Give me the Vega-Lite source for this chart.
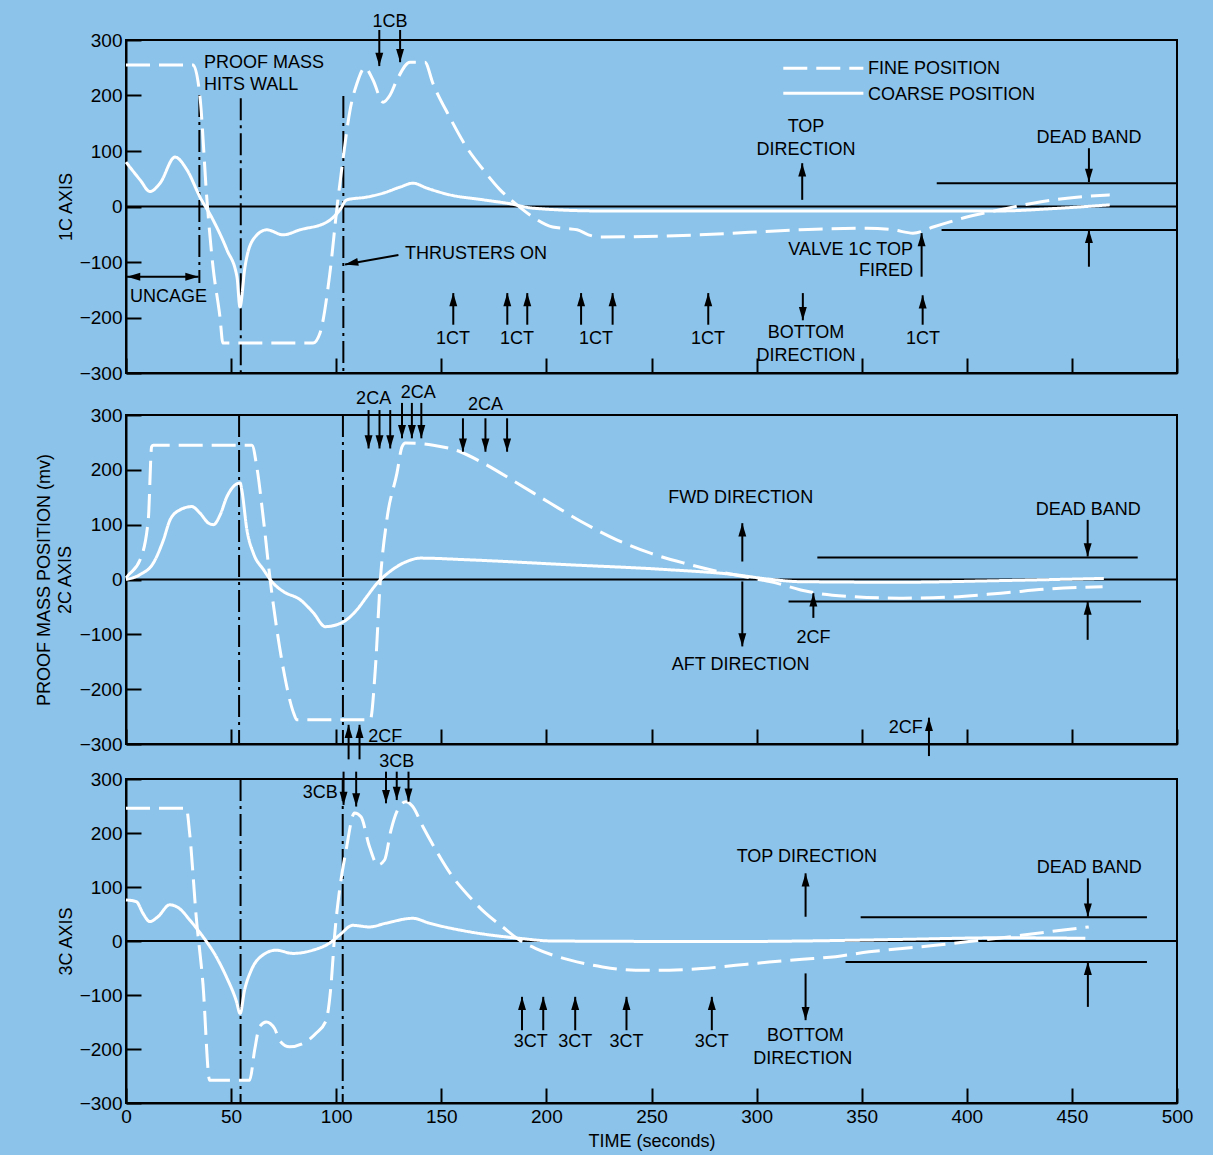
{
"$schema": "https://vega.github.io/schema/vega-lite/v6.json",
"background": "#8cc3ea",
"padding": {"left": 34, "top": 12, "right": 40, "bottom": 20},
"bounds": "flush",
"spacing": 42,
"config": {
 "view": {"stroke": "black", "strokeWidth": 2},
 "font": "Liberation Sans",
 "axis": {"domainColor": "black", "domainWidth": 2, "tickColor": "black", "tickWidth": 2, "tickSize": -15, "labelPadding": 19, "labelColor": "black", "labelFontSize": 19, "labelFont": "Liberation Sans", "titleColor": "black", "titleFont": "Liberation Sans", "titleFontSize": 18, "titleFontWeight": "normal", "grid": false, "labelFlush": false, "labelOverlap": false},
 "text": {"font": "Liberation Sans", "fontSize": 18, "color": "black"}
},
"datasets": {
 "c1": [
  {"s":"fine","t":0,"v":255},{"s":"fine","t":31.9,"v":255},{"s":"fine","t":35.2,"v":197},{"s":"fine","t":38.5,"v":12},{"s":"fine","t":41.4,"v":-109},{"s":"fine","t":44.7,"v":-199},{"s":"fine","t":46.1,"v":-246},{"s":"fine","t":89,"v":-246},{"s":"fine","t":92.3,"v":-228},{"s":"fine","t":97,"v":-120},{"s":"fine","t":100.4,"v":-1},{"s":"fine","t":103.2,"v":84},{"s":"fine","t":106.6,"v":174},{"s":"fine","t":109.9,"v":222},{"s":"fine","t":113.7,"v":250},{"s":"fine","t":117.5,"v":228},{"s":"fine","t":122.3,"v":188},{"s":"fine","t":125.5,"v":200},{"s":"fine","t":128.9,"v":228},{"s":"fine","t":135.1,"v":260},{"s":"fine","t":142.2,"v":260},{"s":"fine","t":146,"v":222},{"s":"fine","t":154,"v":161},{"s":"fine","t":162,"v":107},{"s":"fine","t":170,"v":66},{"s":"fine","t":178,"v":30},{"s":"fine","t":186,"v":3},{"s":"fine","t":193.6,"v":-19},{"s":"fine","t":203,"v":-37},{"s":"fine","t":210,"v":-40},{"s":"fine","t":214.6,"v":-42},{"s":"fine","t":220,"v":-51},{"s":"fine","t":225.5,"v":-55},{"s":"fine","t":273,"v":-51},{"s":"fine","t":320.6,"v":-42},{"s":"fine","t":352.5,"v":-39},{"s":"fine","t":365,"v":-42},{"s":"fine","t":374.4,"v":-48},{"s":"fine","t":384,"v":-37},{"s":"fine","t":400,"v":-19},{"s":"fine","t":415.8,"v":-6},{"s":"fine","t":431.5,"v":6},{"s":"fine","t":447.7,"v":15},{"s":"fine","t":468,"v":21},
  {"s":"coarse","t":0,"v":80},{"s":"coarse","t":6.7,"v":48},{"s":"coarse","t":11.4,"v":27},{"s":"coarse","t":16.2,"v":42},{"s":"coarse","t":23.3,"v":89},{"s":"coarse","t":29,"v":66},{"s":"coarse","t":35.2,"v":17},{"s":"coarse","t":41.4,"v":-24},{"s":"coarse","t":48,"v":-78},{"s":"coarse","t":52.8,"v":-127},{"s":"coarse","t":54.2,"v":-181},{"s":"coarse","t":56.6,"v":-109},{"s":"coarse","t":60.4,"v":-60},{"s":"coarse","t":67,"v":-42},{"s":"coarse","t":74.7,"v":-51},{"s":"coarse","t":82.8,"v":-42},{"s":"coarse","t":95.6,"v":-28},{"s":"coarse","t":101.8,"v":-6},{"s":"coarse","t":105,"v":12},{"s":"coarse","t":114.6,"v":17},{"s":"coarse","t":122.3,"v":24},{"s":"coarse","t":130.4,"v":35},{"s":"coarse","t":136.5,"v":42},{"s":"coarse","t":143.2,"v":33},{"s":"coarse","t":154,"v":21},{"s":"coarse","t":170,"v":12},{"s":"coarse","t":182.7,"v":5},{"s":"coarse","t":193.6,"v":-3},{"s":"coarse","t":225.5,"v":-8},{"s":"coarse","t":415.8,"v":-8},{"s":"coarse","t":440,"v":-4},{"s":"coarse","t":468,"v":3}
 ],
 "c2": [
  {"s":"fine","t":0,"v":3},{"s":"fine","t":1.1,"v":8},{"s":"fine","t":6.7,"v":36},{"s":"fine","t":10.6,"v":109},{"s":"fine","t":12.2,"v":242},{"s":"fine","t":13,"v":245},{"s":"fine","t":59.9,"v":245},{"s":"fine","t":62.2,"v":206},{"s":"fine","t":65.4,"v":109},{"s":"fine","t":68.6,"v":-1},{"s":"fine","t":71.8,"v":-92},{"s":"fine","t":74.9,"v":-164},{"s":"fine","t":79.7,"v":-243},{"s":"fine","t":81.3,"v":-256},{"s":"fine","t":116.2,"v":-256},{"s":"fine","t":118.6,"v":-164},{"s":"fine","t":121,"v":-1},{"s":"fine","t":124.1,"v":109},{"s":"fine","t":128.9,"v":194},{"s":"fine","t":131.3,"v":242},{"s":"fine","t":132.9,"v":249},{"s":"fine","t":140,"v":248},{"s":"fine","t":146.2,"v":245},{"s":"fine","t":159,"v":233},{"s":"fine","t":170.1,"v":212},{"s":"fine","t":186,"v":176},{"s":"fine","t":201.9,"v":139},{"s":"fine","t":217.8,"v":103},{"s":"fine","t":233.7,"v":72},{"s":"fine","t":249.5,"v":48},{"s":"fine","t":265.4,"v":30},{"s":"fine","t":281.3,"v":15},{"s":"fine","t":297.1,"v":3},{"s":"fine","t":309.9,"v":-7},{"s":"fine","t":321,"v":-19},{"s":"fine","t":328.9,"v":-25},{"s":"fine","t":344.8,"v":-31},{"s":"fine","t":368.6,"v":-34},{"s":"fine","t":392.4,"v":-32},{"s":"fine","t":416.2,"v":-25},{"s":"fine","t":440,"v":-17},{"s":"fine","t":464.6,"v":-13},
  {"s":"coarse","t":0,"v":0},{"s":"coarse","t":6.7,"v":9},{"s":"coarse","t":13,"v":30},{"s":"coarse","t":17.8,"v":72},{"s":"coarse","t":21,"v":109},{"s":"coarse","t":25.7,"v":127},{"s":"coarse","t":31.3,"v":133},{"s":"coarse","t":35.2,"v":121},{"s":"coarse","t":39.2,"v":103},{"s":"coarse","t":41.6,"v":100},{"s":"coarse","t":44.8,"v":118},{"s":"coarse","t":48,"v":151},{"s":"coarse","t":54.3,"v":176},{"s":"coarse","t":55.1,"v":163},{"s":"coarse","t":57.5,"v":91},{"s":"coarse","t":60.6,"v":48},{"s":"coarse","t":65.4,"v":18},{"s":"coarse","t":70.1,"v":-7},{"s":"coarse","t":74.9,"v":-22},{"s":"coarse","t":82.9,"v":-37},{"s":"coarse","t":89.2,"v":-61},{"s":"coarse","t":94.8,"v":-86},{"s":"coarse","t":103.5,"v":-77},{"s":"coarse","t":109.9,"v":-55},{"s":"coarse","t":114.6,"v":-31},{"s":"coarse","t":119.4,"v":-7},{"s":"coarse","t":125.7,"v":15},{"s":"coarse","t":133.7,"v":33},{"s":"coarse","t":140,"v":39},{"s":"coarse","t":162.2,"v":36},{"s":"coarse","t":209.9,"v":27},{"s":"coarse","t":257.5,"v":18},{"s":"coarse","t":289.2,"v":9},{"s":"coarse","t":305.1,"v":1},{"s":"coarse","t":321,"v":-4},{"s":"coarse","t":368.6,"v":-5},{"s":"coarse","t":416.2,"v":-2},{"s":"coarse","t":465.2,"v":2}
 ],
 "c3": [
  {"s":"fine","t":0,"v":246},{"s":"fine","t":28.7,"v":246},{"s":"fine","t":30.3,"v":199},{"s":"fine","t":33.4,"v":45},{"s":"fine","t":36.6,"v":-79},{"s":"fine","t":39.8,"v":-258},{"s":"fine","t":58.8,"v":-258},{"s":"fine","t":61.2,"v":-202},{"s":"fine","t":63.5,"v":-159},{"s":"fine","t":66.7,"v":-150},{"s":"fine","t":70.7,"v":-162},{"s":"fine","t":73,"v":-184},{"s":"fine","t":77.8,"v":-196},{"s":"fine","t":84.1,"v":-190},{"s":"fine","t":90.4,"v":-171},{"s":"fine","t":95.2,"v":-147},{"s":"fine","t":97.6,"v":-79},{"s":"fine","t":99.2,"v":8},{"s":"fine","t":101.6,"v":94},{"s":"fine","t":104.7,"v":168},{"s":"fine","t":108.7,"v":237},{"s":"fine","t":111.8,"v":230},{"s":"fine","t":115.8,"v":175},{"s":"fine","t":119.8,"v":141},{"s":"fine","t":123,"v":150},{"s":"fine","t":126.1,"v":206},{"s":"fine","t":130.1,"v":249},{"s":"fine","t":133.2,"v":258},{"s":"fine","t":136.4,"v":249},{"s":"fine","t":141.2,"v":212},{"s":"fine","t":147.5,"v":168},{"s":"fine","t":155.4,"v":119},{"s":"fine","t":163.4,"v":82},{"s":"fine","t":171.2,"v":51},{"s":"fine","t":179.2,"v":26},{"s":"fine","t":187.1,"v":2},{"s":"fine","t":195,"v":-14},{"s":"fine","t":202.9,"v":-26},{"s":"fine","t":210.9,"v":-35},{"s":"fine","t":226.7,"v":-48},{"s":"fine","t":242.5,"v":-54},{"s":"fine","t":258.4,"v":-54},{"s":"fine","t":274.2,"v":-51},{"s":"fine","t":290.1,"v":-45},{"s":"fine","t":305.9,"v":-39},{"s":"fine","t":321.8,"v":-34},{"s":"fine","t":337.6,"v":-29},{"s":"fine","t":353.5,"v":-20},{"s":"fine","t":369.3,"v":-14},{"s":"fine","t":385.1,"v":-8},{"s":"fine","t":401,"v":-1},{"s":"fine","t":416.8,"v":6},{"s":"fine","t":432.7,"v":14},{"s":"fine","t":458,"v":26},
  {"s":"coarse","t":0,"v":76},{"s":"coarse","t":4.9,"v":73},{"s":"coarse","t":8.1,"v":51},{"s":"coarse","t":11.3,"v":36},{"s":"coarse","t":15.2,"v":45},{"s":"coarse","t":20.8,"v":67},{"s":"coarse","t":25.5,"v":60},{"s":"coarse","t":30.3,"v":39},{"s":"coarse","t":36.6,"v":8},{"s":"coarse","t":42.9,"v":-29},{"s":"coarse","t":47.7,"v":-66},{"s":"coarse","t":52.4,"v":-110},{"s":"coarse","t":54.3,"v":-134},{"s":"coarse","t":56.4,"v":-91},{"s":"coarse","t":59.6,"v":-54},{"s":"coarse","t":65.1,"v":-26},{"s":"coarse","t":71.4,"v":-17},{"s":"coarse","t":79.4,"v":-23},{"s":"coarse","t":88.9,"v":-17},{"s":"coarse","t":96.8,"v":-4},{"s":"coarse","t":101.6,"v":11},{"s":"coarse","t":107.9,"v":29},{"s":"coarse","t":115.8,"v":26},{"s":"coarse","t":123.7,"v":33},{"s":"coarse","t":136.4,"v":42},{"s":"coarse","t":144.3,"v":33},{"s":"coarse","t":163.4,"v":17},{"s":"coarse","t":187.1,"v":5},{"s":"coarse","t":202.9,"v":0},{"s":"coarse","t":289.9,"v":-1},{"s":"coarse","t":321.8,"v":0},{"s":"coarse","t":369.3,"v":3},{"s":"coarse","t":416.8,"v":6},{"s":"coarse","t":456.4,"v":5}
 ],
 "lg": [{"s":"fine","t":312.7,"t2":350.8,"v":249},{"s":"coarse","t":312.7,"t2":350.8,"v":204}],
 "h1": [{"t":0,"t2":500,"v":0},{"t":385.7,"t2":500,"v":41.8},{"t":388,"t2":500,"v":-42.3},{"t":0.5,"t2":34.5,"v":-126.5}],
 "h2": [{"t":0,"t2":500,"v":0},{"t":328.9,"t2":481.3,"v":40},{"t":315.2,"t2":482.9,"v":-40}],
 "h3": [{"t":0,"t2":500,"v":0},{"t":349.5,"t2":485.7,"v":44},{"t":342.3,"t2":485.7,"v":-39}],
 "vl1": [{"t":34.9,"v":200.9,"v2":-138},{"t":54.6,"v":195,"v2":-300},{"t":103.4,"v":199,"v2":-300}],
 "vl2": [{"t":53.8,"v":300,"v2":-300},{"t":103.2,"v":300,"v2":-300}],
 "vl3": [{"t":54.5,"v":300,"v2":-300},{"t":103.1,"v":300,"v2":-300}],
 "a1": [
  {"t":120.5,"v":253,"v2":318,"d":"down"},{"t":130.4,"v":260,"v2":318,"d":"down"},
  {"t":321.7,"v":78,"v2":12,"d":"up"},
  {"t":458.1,"v":44,"v2":105,"d":"down"},{"t":458.1,"v":-42,"v2":-108.5,"d":"up"},
  {"t":378.5,"v":-48,"v2":-126.5,"d":"up"},
  {"t":155.7,"v":-156,"v2":-213,"d":"up"},{"t":181.4,"v":-156,"v2":-213,"d":"up"},{"t":190.9,"v":-156,"v2":-213,"d":"up"},{"t":216.5,"v":-156,"v2":-213,"d":"up"},{"t":231.5,"v":-156,"v2":-213,"d":"up"},{"t":277,"v":-156,"v2":-213,"d":"up"},{"t":379,"v":-160,"v2":-213,"d":"up"},
  {"t":322,"v":-205,"v2":-156,"d":"down"}
 ],
 "hd1": [{"t":0.5,"v":-126.5,"d":"left"},{"t":34.5,"v":-126.5,"d":"right"}],
 "dg1": [{"t":104.2,"v":-104.5,"t2":129.6,"v2":-87.4}],
 "a2": [
  {"t":115.4,"v":239,"v2":309,"d":"down"},{"t":120.6,"v":239,"v2":309,"d":"down"},{"t":125.7,"v":239,"v2":309,"d":"down"},
  {"t":131.3,"v":257.5,"v2":322,"d":"down"},{"t":136,"v":257.5,"v2":322,"d":"down"},{"t":140.5,"v":257.5,"v2":322,"d":"down"},
  {"t":160.3,"v":233,"v2":294,"d":"down"},{"t":171,"v":233,"v2":294,"d":"down"},{"t":181.3,"v":233,"v2":294,"d":"down"},
  {"t":293.2,"v":102.7,"v2":32.8,"d":"up"},{"t":293.2,"v":-122,"v2":-3.6,"d":"down"},
  {"t":457.5,"v":41.9,"v2":108.7,"d":"down"},{"t":457.5,"v":-40,"v2":-110,"d":"up"},
  {"t":327,"v":-25,"v2":-70,"d":"up"},{"t":382,"v":-252,"v2":-322,"d":"up"},
  {"t":105.9,"v":-265,"v2":-328,"d":"up"},{"t":111.1,"v":-265,"v2":-328,"d":"up"}
 ],
 "a3": [
  {"t":103.5,"v":252,"v2":313.6,"d":"down"},{"t":109.5,"v":249,"v2":313.6,"d":"down"},
  {"t":123.7,"v":255,"v2":313.6,"d":"down"},{"t":128.8,"v":261,"v2":313.6,"d":"down"},{"t":134.4,"v":258,"v2":313.6,"d":"down"},
  {"t":323.3,"v":125.3,"v2":44.9,"d":"up"},{"t":323.3,"v":-146.6,"v2":-60,"d":"down"},
  {"t":457.6,"v":44.9,"v2":116,"d":"down"},{"t":457.6,"v":-38.6,"v2":-122,"d":"up"},
  {"t":188.4,"v":-103.4,"v2":-165.2,"d":"up"},{"t":198.5,"v":-103.4,"v2":-165.2,"d":"up"},{"t":213.7,"v":-103.4,"v2":-165.2,"d":"up"},{"t":238.1,"v":-103.4,"v2":-165.2,"d":"up"},{"t":278.7,"v":-103.4,"v2":-165.2,"d":"up"}
 ],
 "tc1": [
  {"t":125.6,"v":332,"txt":"1CB"},{"t":323.5,"v":143,"txt":"TOP"},{"t":323.5,"v":102,"txt":"DIRECTION"},{"t":458.1,"v":123,"txt":"DEAD BAND"},
  {"t":155.6,"v":-239,"txt":"1CT"},{"t":186,"v":-239,"txt":"1CT"},{"t":223.6,"v":-239,"txt":"1CT"},{"t":276.9,"v":-239,"txt":"1CT"},{"t":379.2,"v":-239,"txt":"1CT"},
  {"t":323.5,"v":-228,"txt":"BOTTOM"},{"t":323.5,"v":-269,"txt":"DIRECTION"}
 ],
 "tl1": [
  {"t":37.1,"v":258.6,"txt":"PROOF MASS"},{"t":37.1,"v":218.9,"txt":"HITS WALL"},{"t":353,"v":247.7,"txt":"FINE POSITION"},{"t":353,"v":200.9,"txt":"COARSE POSITION"},{"t":132.7,"v":-85.6,"txt":"THRUSTERS ON"},{"t":1.9,"v":-163,"txt":"UNCAGE"}
 ],
 "tr1": [{"t":374.4,"v":-78.4,"txt":"VALVE 1C TOP"},{"t":374.4,"v":-116.2,"txt":"FIRED"}],
 "tc2": [
  {"t":117.8,"v":330,"txt":"2CA"},{"t":139,"v":341,"txt":"2CA"},{"t":171,"v":318,"txt":"2CA"},
  {"t":292.4,"v":148,"txt":"FWD DIRECTION"},{"t":292.4,"v":-155.4,"txt":"AFT DIRECTION"},{"t":457.8,"v":127,"txt":"DEAD BAND"},{"t":327.1,"v":-106.8,"txt":"2CF"}
 ],
 "tl2": [{"t":115.2,"v":-286.5,"txt":"2CF"}],
 "tr2": [{"t":379,"v":-270.7,"txt":"2CF"}],
 "tc3": [
  {"t":128.8,"v":332.2,"txt":"3CB"},{"t":323.9,"v":155.6,"txt":"TOP DIRECTION"},{"t":323.2,"v":-176.3,"txt":"BOTTOM"},{"t":322,"v":-217.6,"txt":"DIRECTION"},{"t":458.3,"v":134.6,"txt":"DEAD BAND"},
  {"t":192.6,"v":-186.8,"txt":"3CT"},{"t":213.7,"v":-186.8,"txt":"3CT"},{"t":238.1,"v":-186.8,"txt":"3CT"},{"t":278.7,"v":-186.8,"txt":"3CT"}
 ],
 "tr3": [{"t":100.7,"v":273.6,"txt":"3CB"}]
},
"vconcat": [
 {
  "width": 1051, "height": 333,
  "encoding": {
   "x": {"field":"t","type":"quantitative","scale":{"domain":[0,500],"nice":false,"zero":false},"axis":{"values":[0,50,100,150,200,250,300,350,400,450,500],"labels":false,"title":null}},
   "y": {"field":"v","type":"quantitative","scale":{"domain":[-300,300],"nice":false,"zero":false},"axis":{"values":[-300,-200,-100,0,100,200,300],"title":"1C AXIS","titleX":-51,"titleBaseline":"bottom"}}
  },
  "layer": [
   {"data":{"name":"h1"},"mark":{"type":"rule","color":"black","strokeWidth":2},"encoding":{"x2":{"field":"t2"}}},
   {"data":{"name":"vl1"},"mark":{"type":"rule","color":"black","strokeWidth":2,"strokeDash":[22,5,3,5]},"encoding":{"y2":{"field":"v2"}}},
   {"data":{"name":"c1"},"mark":{"type":"line","color":"white","strokeWidth":3,"interpolate":"monotone"},"encoding":{"detail":{"field":"s"},"strokeDash":{"field":"s","type":"nominal","scale":{"domain":["fine","coarse"],"range":[[24,9],[1,0]]},"legend":null}}},
   {"data":{"name":"lg"},"mark":{"type":"rule","color":"white","strokeWidth":3},"encoding":{"x2":{"field":"t2"},"strokeDash":{"field":"s","type":"nominal","scale":{"domain":["fine","coarse"],"range":[[24,9],[1,0]]},"legend":null}}},
   {"data":{"name":"a1"},"mark":{"type":"rule","color":"black","strokeWidth":2},"encoding":{"y2":{"field":"v2"}}},
   {"data":{"name":"a1"},"mark":{"type":"point","filled":true,"color":"black","opacity":1,"size":700,"strokeWidth":0},"encoding":{"shape":{"field":"d","type":"nominal","scale":{"domain":["up","down","left","right"],"range":["M-0.3,1L0.3,1L0,0Z","M-0.3,-1L0.3,-1L0,0Z","M1,-0.3L1,0.3L0,0Z","M-1,-0.3L-1,0.3L0,0Z"]},"legend":null}}},
   {"data":{"name":"hd1"},"mark":{"type":"point","filled":true,"color":"black","opacity":1,"size":700,"strokeWidth":0},"encoding":{"shape":{"field":"d","type":"nominal","scale":{"domain":["up","down","left","right"],"range":["M-0.3,1L0.3,1L0,0Z","M-0.3,-1L0.3,-1L0,0Z","M1,-0.3L1,0.3L0,0Z","M-1,-0.3L-1,0.3L0,0Z"]},"legend":null}}},
   {"data":{"name":"dg1"},"mark":{"type":"rule","color":"black","strokeWidth":2},"encoding":{"x2":{"field":"t2"},"y2":{"field":"v2"}}},
   {"data":{"name":"dg1"},"mark":{"type":"point","filled":true,"color":"black","opacity":1,"size":700,"strokeWidth":0,"shape":"M1,-0.3L1,0.3L0,0Z","angle":349}},
   {"data":{"name":"tc1"},"mark":{"type":"text"},"encoding":{"text":{"field":"txt"}}},
   {"data":{"name":"tl1"},"mark":{"type":"text","align":"left"},"encoding":{"text":{"field":"txt"}}},
   {"data":{"name":"tr1"},"mark":{"type":"text","align":"right"},"encoding":{"text":{"field":"txt"}}}
  ]
 },
 {
  "bounds": "flush",
  "spacing": 35,
  "vconcat": [
   {
    "width": 1051, "height": 329,
    "encoding": {
     "x": {"field":"t","type":"quantitative","scale":{"domain":[0,500],"nice":false,"zero":false},"axis":{"values":[0,50,100,150,200,250,300,350,400,450,500],"labels":false,"title":null}},
     "y": {"field":"v","type":"quantitative","scale":{"domain":[-300,300],"nice":false,"zero":false},"axis":{"values":[-300,-200,-100,0,100,200,300],"title":["PROOF MASS POSITION (mv)","2C AXIS"],"titleX":-73,"titleBaseline":"bottom","titleLineHeight":21}}
    },
    "layer": [
     {"data":{"name":"h2"},"mark":{"type":"rule","color":"black","strokeWidth":2},"encoding":{"x2":{"field":"t2"}}},
     {"data":{"name":"vl2"},"mark":{"type":"rule","color":"black","strokeWidth":2,"strokeDash":[22,5,3,5]},"encoding":{"y2":{"field":"v2"}}},
     {"data":{"name":"c2"},"mark":{"type":"line","color":"white","strokeWidth":3,"interpolate":"monotone"},"encoding":{"detail":{"field":"s"},"strokeDash":{"field":"s","type":"nominal","scale":{"domain":["fine","coarse"],"range":[[24,9],[1,0]]},"legend":null}}},
     {"data":{"name":"a2"},"mark":{"type":"rule","color":"black","strokeWidth":2},"encoding":{"y2":{"field":"v2"}}},
     {"data":{"name":"a2"},"mark":{"type":"point","filled":true,"color":"black","opacity":1,"size":700,"strokeWidth":0},"encoding":{"shape":{"field":"d","type":"nominal","scale":{"domain":["up","down","left","right"],"range":["M-0.3,1L0.3,1L0,0Z","M-0.3,-1L0.3,-1L0,0Z","M1,-0.3L1,0.3L0,0Z","M-1,-0.3L-1,0.3L0,0Z"]},"legend":null}}},
     {"data":{"name":"tc2"},"mark":{"type":"text"},"encoding":{"text":{"field":"txt"}}},
     {"data":{"name":"tl2"},"mark":{"type":"text","align":"left"},"encoding":{"text":{"field":"txt"}}},
     {"data":{"name":"tr2"},"mark":{"type":"text","align":"right"},"encoding":{"text":{"field":"txt"}}}
    ]
   },
   {
    "width": 1051, "height": 324,
    "encoding": {
     "x": {"field":"t","type":"quantitative","scale":{"domain":[0,500],"nice":false,"zero":false},"axis":{"values":[0,50,100,150,200,250,300,350,400,450,500],"title":"TIME (seconds)","titleY":38,"titleBaseline":"middle"}},
     "y": {"field":"v","type":"quantitative","scale":{"domain":[-300,300],"nice":false,"zero":false},"axis":{"values":[-300,-200,-100,0,100,200,300],"title":"3C AXIS","titleX":-51,"titleBaseline":"bottom"}}
    },
    "layer": [
     {"data":{"name":"h3"},"mark":{"type":"rule","color":"black","strokeWidth":2},"encoding":{"x2":{"field":"t2"}}},
     {"data":{"name":"vl3"},"mark":{"type":"rule","color":"black","strokeWidth":2,"strokeDash":[22,5,3,5]},"encoding":{"y2":{"field":"v2"}}},
     {"data":{"name":"c3"},"mark":{"type":"line","color":"white","strokeWidth":3,"interpolate":"monotone"},"encoding":{"detail":{"field":"s"},"strokeDash":{"field":"s","type":"nominal","scale":{"domain":["fine","coarse"],"range":[[24,9],[1,0]]},"legend":null}}},
     {"data":{"name":"a3"},"mark":{"type":"rule","color":"black","strokeWidth":2},"encoding":{"y2":{"field":"v2"}}},
     {"data":{"name":"a3"},"mark":{"type":"point","filled":true,"color":"black","opacity":1,"size":700,"strokeWidth":0},"encoding":{"shape":{"field":"d","type":"nominal","scale":{"domain":["up","down","left","right"],"range":["M-0.3,1L0.3,1L0,0Z","M-0.3,-1L0.3,-1L0,0Z","M1,-0.3L1,0.3L0,0Z","M-1,-0.3L-1,0.3L0,0Z"]},"legend":null}}},
     {"data":{"name":"tc3"},"mark":{"type":"text"},"encoding":{"text":{"field":"txt"}}},
     {"data":{"name":"tr3"},"mark":{"type":"text","align":"right"},"encoding":{"text":{"field":"txt"}}}
    ]
   }
  ]
 }
]
}
